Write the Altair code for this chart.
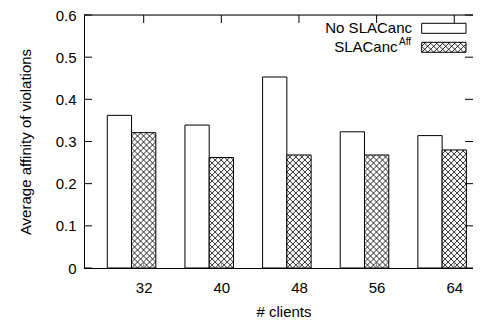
import altair as alt
import pandas as pd
import math

# ---- data ----
clients = [32, 40, 48, 56, 64]
no_slacanc = [0.362, 0.339, 0.453, 0.323, 0.314]
slacanc_aff = [0.321, 0.262, 0.268, 0.268, 0.280]
y_ticks = [0, 0.1, 0.2, 0.3, 0.4, 0.5, 0.6]

# ---- layout ----
W, H = 389, 253
X0, X1 = 25.85, 65.93
Y0, Y1 = 0.0, 0.6
PXX = W / (X1 - X0)
PXY = H / (Y1 - Y0)
FONT = "Liberation Sans"
FS = 15
PITCH = 6.0

bars = pd.DataFrame({
    "c": clients,
    "no": no_slacanc,
    "aff": slacanc_aff,
})
bars["no_l"] = bars["c"] - 3.75
bars["no_r"] = bars["c"] - 1.25
bars["aff_l"] = bars["c"] - 1.25
bars["aff_r"] = bars["c"] + 1.25
bars["zero"] = 0.0


def hatch(left_px, bottom_px, w, h, p=PITCH):
    segs = []
    k = math.floor(-h / p)
    while k * p < w:
        c = k * p
        u1, u2 = max(0.0, c), min(w, h + c)
        if u2 > u1:
            segs.append((u1, u1 - c, u2, u2 - c))
        k += 1
    k = 1
    while k * p < w + h:
        c = k * p
        u1, u2 = max(0.0, c - h), min(w, c)
        if u2 > u1:
            segs.append((u1, c - u1, u2, c - u2))
        k += 1
    rows = []
    for (a, b, cc, d) in segs:
        rows.append({
            "x": X0 + (left_px + a) / PXX,
            "y": (bottom_px + b) / PXY,
            "x2": X0 + (left_px + cc) / PXX,
            "y2": (bottom_px + d) / PXY,
        })
    return rows


hatch_rows = []
for c, v in zip(clients, slacanc_aff):
    left_px = (c - 1.25 - X0) * PXX
    hatch_rows += hatch(left_px, 0.0, 2.5 * PXX, v * PXY)

# legend box positions (plot pixels, y from top)
LB_X1, LB_X2 = 337.7, 382.0
LB1_Y1, LB1_Y2 = 8.3, 18.3
LB2_Y1, LB2_Y2 = 27.3, 37.3
hatch_rows += hatch(LB_X1, H - LB2_Y2, LB_X2 - LB_X1, LB2_Y2 - LB2_Y1)
hatch_df = pd.DataFrame(hatch_rows)

xscale = alt.Scale(domain=[X0, X1], nice=False, zero=False)
yscale = alt.Scale(domain=[Y0, Y1], nice=False, zero=False)

x_axis = alt.Axis(
    values=clients, title="# clients", ticks=False, tickSize=0, grid=False,
    labelPadding=19, labelBaseline="middle", domainColor="black",
    labelFont=FONT, labelFontSize=FS, labelColor="black",
    titleFont=FONT, titleFontSize=FS, titleFontWeight="normal", titleColor="black",
    titleX=199.5, titleY=43, titleBaseline="middle", titleAnchor="start", titleAlign="center",
)
y_axis = alt.Axis(
    values=y_ticks, title="Average affinity of violations", ticks=False, tickSize=0, grid=False,
    labelPadding=8, domainColor="black",
    labelExpr="datum.value == 0 ? '0' : format(datum.value, '.1f')",
    labelFont=FONT, labelFontSize=FS, labelColor="black",
    titleFont=FONT, titleFontSize=FS, titleFontWeight="normal", titleColor="black",
    titleX=-59, titleY=H / 2, titleAngle=270, titleBaseline="middle", titleAlign="center",
    titleAnchor="start",
)

no_bars = alt.Chart(bars).mark_rect(fill="white", stroke="black", strokeWidth=1).encode(
    x=alt.X("no_l:Q", scale=xscale, axis=x_axis),
    x2="no_r:Q",
    y=alt.Y("zero:Q", scale=yscale, axis=y_axis),
    y2="no:Q",
)
aff_fill = alt.Chart(bars).mark_rect(fill="white", strokeWidth=0).encode(
    x=alt.X("aff_l:Q", scale=xscale, axis=x_axis),
    x2="aff_r:Q",
    y=alt.Y("zero:Q", scale=yscale, axis=y_axis),
    y2="aff:Q",
)
hatch_layer = alt.Chart(hatch_df).mark_rule(color="#111111", strokeWidth=0.9).encode(
    x=alt.X("x:Q", scale=xscale, axis=x_axis),
    x2="x2:Q",
    y=alt.Y("y:Q", scale=yscale, axis=y_axis),
    y2="y2:Q",
)
aff_outline = alt.Chart(bars).mark_rect(fillOpacity=0, stroke="black", strokeWidth=1).encode(
    x=alt.X("aff_l:Q", scale=xscale, axis=x_axis),
    x2="aff_r:Q",
    y=alt.Y("zero:Q", scale=yscale, axis=y_axis),
    y2="aff:Q",
)

tick_x = pd.DataFrame({"c": clients})
tick_y = pd.DataFrame({"v": y_ticks})
top_ticks = alt.Chart(tick_x).mark_rule(color="black", strokeWidth=1).encode(
    x=alt.X("c:Q", scale=xscale, axis=x_axis), y=alt.value(0), y2=alt.value(8)
)
bottom_ticks = alt.Chart(tick_x).mark_rule(color="#888888", strokeWidth=1).encode(
    x=alt.X("c:Q", scale=xscale, axis=x_axis), y=alt.value(H - 6), y2=alt.value(H)
)
left_ticks = alt.Chart(tick_y).mark_rule(color="black", strokeWidth=1).encode(
    y=alt.Y("v:Q", scale=yscale, axis=y_axis), x=alt.value(0), x2=alt.value(8)
)
right_ticks = alt.Chart(tick_y).mark_rule(color="black", strokeWidth=1).encode(
    y=alt.Y("v:Q", scale=yscale, axis=y_axis), x=alt.value(W - 8), x2=alt.value(W)
)
one = pd.DataFrame({"a": [0]})
top_border = alt.Chart(one).mark_rule(color="black", strokeWidth=1).encode(
    x=alt.value(0), x2=alt.value(W), y=alt.value(0)
)

legend_box1 = alt.Chart(one).mark_rect(fill="white", stroke="black", strokeWidth=1).encode(
    x=alt.value(LB_X1), x2=alt.value(LB_X2), y=alt.value(LB1_Y1), y2=alt.value(LB1_Y2)
)
legend_box2 = alt.Chart(one).mark_rect(fillOpacity=0, stroke="black", strokeWidth=1).encode(
    x=alt.value(LB_X1), x2=alt.value(LB_X2), y=alt.value(LB2_Y1), y2=alt.value(LB2_Y2)
)
legend_t1 = alt.Chart(one).mark_text(
    text="No SLACanc", align="right", baseline="alphabetic", font=FONT, fontSize=FS, color="black"
).encode(x=alt.value(328), y=alt.value(17.5))
legend_t2 = alt.Chart(one).mark_text(
    text="SLACanc", align="right", baseline="alphabetic", font=FONT, fontSize=FS, color="black"
).encode(x=alt.value(313.5), y=alt.value(37))
legend_t3 = alt.Chart(one).mark_text(
    text="Aff", align="left", baseline="alphabetic", font=FONT, fontSize=10, color="black"
).encode(x=alt.value(315), y=alt.value(30))

chart = alt.layer(
    no_bars, aff_fill, hatch_layer, aff_outline,
    top_ticks, bottom_ticks, left_ticks, right_ticks, top_border,
    legend_box1, legend_box2, legend_t1, legend_t2, legend_t3,
).properties(
    width=W, height=H,
    autosize=alt.AutoSizeParams(type="none"),
    padding={"left": 76, "top": 7, "right": 0, "bottom": 52},
).configure_view(stroke=None).configure(background="white")

chart.save("out.html", embed_options={"renderer": "svg", "actions": False})
